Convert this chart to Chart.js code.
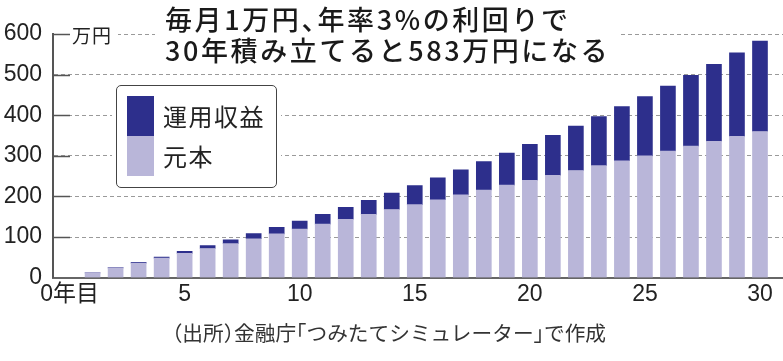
<!DOCTYPE html>
<html>
<head>
<meta charset="utf-8">
<script src="https://cdn.jsdelivr.net/npm/chart.js@4"></script>
<style>
  body { margin: 0; background: #fff; }
  #caixa { position: relative; width: 783px; height: 361px; font-family: "Noto Sans CJK JP", sans-serif; color: #222; }
  #titulo { position: absolute; left: 155px; top: 0; width: 463px; height: 66px; padding: 3px 0 0 10px; box-sizing: border-box;
    background: #fff; font-size: 27px; font-weight: 500; line-height: 31px; letter-spacing: 2.6px; font-feature-settings: "halt"; white-space: nowrap; color: #1a1a1a; }
  #unidade { position: absolute; left: 70px; top: 25px; width: 48px; height: 20px; padding-left: 2px; box-sizing: border-box;
    background: #fff; font-size: 19px; line-height: 20px; letter-spacing: 1px; }
  #legenda { position: absolute; left: 116px; top: 85px; width: 161px; height: 103px; box-sizing: border-box;
    border: 1.5px solid #444; border-radius: 5px; background: #fff; box-shadow: 0 0 0 4px #fff; }
  .item { position: absolute; left: 10px; height: 40px; width: 140px; }
  .item span.cor { position: absolute; left: 0; top: 0; width: 27px; height: 40px; }
  .item span.txt { position: absolute; left: 36px; top: 0; font-size: 24px; line-height: 40px; letter-spacing: 1.5px; white-space: nowrap; }
  #fonte { position: absolute; left: 172px; top: 320px; font-size: 20.7px; line-height: 24px; color: #333; font-feature-settings: "halt"; white-space: nowrap; }
</style>
</head>
<body>
<div id="caixa">
  <canvas id="grafico" width="783" height="361"></canvas>
  <div id="titulo">毎月1万円、年率3%の利回りで<br>30年積み立てると583万円になる</div>
  <div id="unidade">万円</div>
  <div id="legenda"></div>
  <div id="fonte">（出所）金融庁「つみたてシミュレーター」で作成</div>
</div>
<script>
const anos = [1, 2, 3, 4, 5, 6, 7, 8, 9, 10, 11, 12, 13, 14, 15, 16, 17, 18, 19, 20, 21, 22, 23, 24, 25, 26, 27, 28, 29, 30];
// 万円
const principal = [12, 24, 36, 48, 60, 72, 84, 96, 108, 120, 132, 144, 156, 168, 180, 192, 204, 216, 228, 240, 252, 264, 276, 288, 300, 312, 324, 336, 348, 360];
const rendimento = [0.2, 0.7, 1.6, 2.9, 4.7, 6.8, 9.3, 12.4, 15.8, 19.7, 24.2, 29.1, 34.5, 40.5, 47, 54, 61.7, 69.9, 78.8, 88.3, 98.5, 109.3, 120.8, 133, 146, 159.7, 174.3, 189.6, 205.7, 222.7];
const rotulos = ['元本', '運用収益'];
const cores = ['#b9b6d9', '#2d2f8c'];
const ticksY = [0, 100, 200, 300, 400, 500, 600];

const fonteNum = { family: '"Liberation Sans", "Noto Sans CJK JP", sans-serif', size: 23 };

// marcas solidas curtas no inicio de cada linha de grade
const marcasY = {
    id: 'marcasY',
    beforeDatasetsDraw(chart) {
        const ctx = chart.ctx;
        const y = chart.scales.y;
        const esq = chart.chartArea.left;
        ctx.save();
        ctx.strokeStyle = '#555';
        ctx.lineWidth = 1.5;
        ticksY.forEach(v => {
            if (v === 0) return;
            const py = Math.round(y.getPixelForValue(v)) + 0.5;
            ctx.beginPath();
            ctx.moveTo(esq, py);
            ctx.lineTo(esq + 17, py);
            ctx.stroke();
        });
        ctx.restore();
    }
};

function mostrarDados() {
    const ctx = document.getElementById('grafico').getContext('2d');
    new Chart(ctx, {
        type: 'bar',
        data: {
            labels: anos,
            datasets: [
                { label: rotulos[0], data: anos.map((a, i) => ({ x: a, y: principal[i] })), backgroundColor: cores[0], borderWidth: 0, barThickness: 15 },
                { label: rotulos[1], data: anos.map((a, i) => ({ x: a, y: rendimento[i] })), backgroundColor: cores[1], borderWidth: 0, barThickness: 15 }
            ]
        },
        options: {
            responsive: false,
            animation: false,
            layout: { padding: { top: 34, right: 0, left: 0, bottom: 0 } },
            plugins: {
                legend: { display: false },
                tooltip: { enabled: false }
            },
            scales: {
                x: {
                    type: 'linear',
                    stacked: true,
                    offset: false,
                    min: -0.72,
                    max: 31,
                    afterFit: s => { s.height = 83.3; },
                    grid: { display: false, drawTicks: false, offset: false },
                    border: { display: true, color: '#666', width: 2 },
                    ticks: {
                        stepSize: 5,
                        includeBounds: false,
                        autoSkip: false,
                        maxRotation: 0,
                        padding: 3,
                        color: '#222',
                        font: fonteNum,
                        callback: v => v === 0 ? '0年目' : v
                    }
                },
                y: {
                    stacked: true,
                    min: 0,
                    max: 600,
                    afterFit: s => { s.width = 53; },
                    afterBuildTicks: s => { s.ticks = ticksY.map(v => ({ value: v })); },
                    grid: {
                        drawTicks: false,
                        lineWidth: 1,
                        color: c => c.tick && c.tick.value === 0 ? 'rgba(0,0,0,0)' : '#9a9a9a'
                    },
                    border: { display: true, color: '#555', width: 2, dash: [4, 3] },
                    ticks: { padding: 11, color: '#222', font: fonteNum }
                }
            }
        },
        plugins: [marcasY]
    });

    // legenda: 運用収益 em cima, 元本 embaixo
    const leg = document.getElementById('legenda');
    [1, 0].forEach((d, k) => {
        const it = document.createElement('div');
        it.className = 'item';
        it.style.top = (10 + k * 40) + 'px';
        it.innerHTML = '<span class="cor" style="background:' + cores[d] + '"></span><span class="txt">' + rotulos[d] + '</span>';
        leg.appendChild(it);
    });
}

mostrarDados();
</script>
</body>
</html>
